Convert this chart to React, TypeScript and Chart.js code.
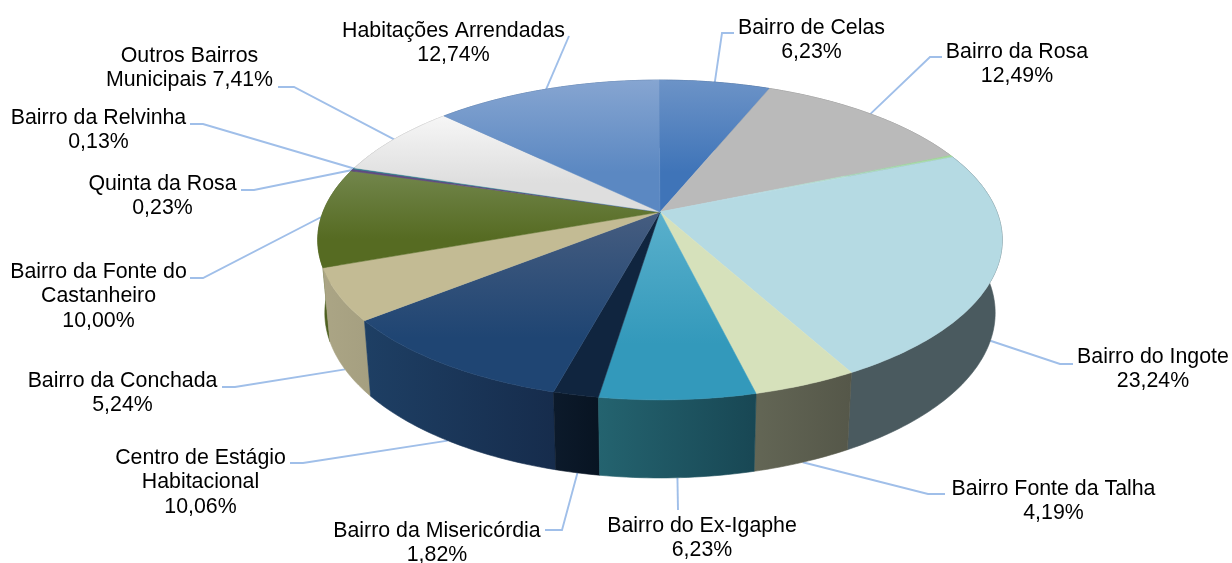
import React, { useEffect, useRef } from "react";
import { Chart, registerables } from "chart.js";

Chart.register(...registerables);

const categories = ["Bairro de Celas", "Bairro da Rosa", "", "Bairro do Ingote", "Bairro Fonte da Talha", "Bairro do Ex-Igaphe", "Bairro da Misericórdia", "Centro de Estágio Habitacional", "Bairro da Conchada", "Bairro da Fonte do Castanheiro", "Quinta da Rosa", "Bairro da Relvinha", "Outros Bairros Municipais", "Habitações Arrendadas"];
const shares = [6.23, 12.49, 0.2, 23.24, 4.19, 6.23, 1.82, 10.06, 5.24, 10.0, 0.23, 0.13, 7.41, 12.74];

const topLight = ["#6C93C7", "#BABABA", "#A4DC9A", "#B5DAE3", "#D6E1BB", "#5AB0CC", "#10253F", "#465D80", "#C3BB94", "#72864C", "#5F4A80", "#2E7F8F", "#F6F6F6", "#86A5D1"];
const topDeep = ["#3F74B8", "#BABABA", "#B5DAE3", "#B5DAE3", "#D6E1BB", "#3399BB", "#10253F", "#1F4573", "#C3BB94", "#566B22", "#5F4A80", "#2E7F8F", "#DEDEDE", "#5B88C2"];
const wallLeft = ["#2C5488", "#777777", "#6B8F62", "#4A5A5F", "#636655", "#24636F", "#0C1A2B", "#1E3F64", "#ABA585", "#4E6020", "#3C2F52", "#1C5560", "#999999", "#3B6090"];
const wallRight = ["#264A78", "#777777", "#6B8F62", "#4A5A5F", "#555749", "#184754", "#081422", "#162C4C", "#A59F80", "#4E6020", "#3C2F52", "#1C5560", "#999999", "#3B6090"];

const labelLines = [
  ["Bairro de Celas", "6,23%"],
  ["Bairro da Rosa", "12,49%"],
  [],
  ["Bairro do Ingote", "23,24%"],
  ["Bairro Fonte da Talha", "4,19%"],
  ["Bairro do Ex-Igaphe", "6,23%"],
  ["Bairro da Misericórdia", "1,82%"],
  ["Centro de Estágio", "Habitacional", "10,06%"],
  ["Bairro da Conchada", "5,24%"],
  ["Bairro da Fonte do", "Castanheiro", "10,00%"],
  ["Quinta da Rosa", "0,23%"],
  ["Bairro da Relvinha", "0,13%"],
  ["Outros Bairros", "Municipais 7,41%"],
  ["Habitações Arrendadas", "12,74%"],
];

// label layout: text centre x, first-line y, elbow x/y, end x
const labelLayout = [
  [811.5, 28, 722, 33, 734],
  [1017, 52, 930, 57, 942],
  null,
  [1153, 357, 1060, 364, 1073],
  [1053.5, 489, 928, 494, 945],
  [702, 526, 678, 510, 678],
  [437, 531, 562, 530, 545],
  [200.5, 458, 303, 463, 290],
  [122.5, 381, 235, 387, 222],
  [98.5, 272, 203, 278, 190],
  [162.5, 184, 254, 190, 241],
  [98.5, 118, 203, 124, 190],
  [189.5, 56, 294, 87, 278],
  [453.5, 31, 569, 36, 569],
];

const FONT = '21.33px "Liberation Sans", Arial, sans-serif';
const LINE_H = 24.5;
const LEADER = "#A0BFE9";

// perspective projection of the pie's unit disc
const CX = 660;
const K = 0.175;
const topFace = { a: 337, b: 155, y: 212 };
const botFace = { a: 330, b: 160, y: 284 };
function project(face: any, theta: number, r = 1) {
  const u = Math.sin(theta) * r;
  const v = Math.cos(theta) * r;
  const w = 1 + K * v;
  return [CX + (face.a * u) / w, face.y - (face.b * v) / w];
}
function rim(face: any, t0: number, t1: number) {
  const n = Math.max(2, Math.ceil(((t1 - t0) * 180) / Math.PI));
  const pts: number[][] = [];
  for (let i = 0; i <= n; i++) pts.push(project(face, t0 + ((t1 - t0) * i) / n));
  return pts;
}
function trace(ctx: CanvasRenderingContext2D, pts: number[][]) {
  ctx.beginPath();
  pts.forEach((p, i) => (i ? ctx.lineTo(p[0], p[1]) : ctx.moveTo(p[0], p[1])));
  ctx.closePath();
}

const pie3d = {
  id: "pie3d",
  afterDatasetsDraw(chart: any) {
    const ctx: CanvasRenderingContext2D = chart.ctx;
    const arcs = chart.getDatasetMeta(0).data.map((el: any, i: number) => {
      const t0 = el.startAngle + Math.PI / 2;
      const t1 = el.endAngle + Math.PI / 2;
      return { i, t0, t1, mid: (t0 + t1) / 2 };
    });
    ctx.save();

    // leader lines
    ctx.strokeStyle = LEADER;
    ctx.lineWidth = 1.9;
    ctx.lineJoin = "miter";
    for (const s of arcs) {
      const l = labelLayout[s.i];
      if (!l) continue;
      const start = project(Math.cos(s.mid) < -0.1 ? botFace : topFace, s.mid);
      ctx.beginPath();
      ctx.moveTo(start[0], start[1]);
      ctx.lineTo(l[2], l[3]);
      ctx.lineTo(l[4], l[3]);
      ctx.stroke();
    }

    // walls, back to front
    const order = [...arcs].sort((p: any, q: any) => Math.cos(q.mid) - Math.cos(p.mid));
    for (const s of order) {
      const a = rim(topFace, s.t0, s.t1);
      const b = rim(botFace, s.t0, s.t1);
      const poly = [...a, ...b.reverse()];
      const xs = poly.map((p) => p[0]);
      const g = ctx.createLinearGradient(Math.min(...xs), 0, Math.max(...xs), 0);
      g.addColorStop(0, wallLeft[s.i]);
      g.addColorStop(1, wallRight[s.i]);
      ctx.fillStyle = g;
      ctx.strokeStyle = g;
      ctx.lineWidth = 0.6;
      trace(ctx, poly);
      ctx.fill();
      ctx.stroke();
    }

    // top faces
    for (const s of arcs) {
      const poly = [[CX, topFace.y], ...rim(topFace, s.t0, s.t1)];
      const ys = poly.map((p) => p[1]);
      const y0 = Math.min(...ys);
      const y1 = Math.max(...ys);
      const g = ctx.createLinearGradient(0, y0, 0, y1);
      g.addColorStop(0, topLight[s.i]);
      g.addColorStop(0.7, topDeep[s.i]);
      g.addColorStop(1, topDeep[s.i]);
      ctx.fillStyle = g;
      ctx.strokeStyle = g;
      ctx.lineWidth = 0.5;
      trace(ctx, poly);
      ctx.fill();
      ctx.stroke();
    }

    // labels
    ctx.fillStyle = "#000000";
    ctx.font = FONT;
    ctx.textAlign = "center";
    ctx.textBaseline = "middle";
    for (const s of arcs) {
      const l = labelLayout[s.i];
      if (!l) continue;
      labelLines[s.i].forEach((t, j) => ctx.fillText(t, l[0], l[1] + j * LINE_H));
    }
    ctx.restore();
  },
};

export default function App() {
  const ref = useRef<HTMLCanvasElement>(null);
  useEffect(() => {
    document.body.style.margin = "0";
    const chart = new Chart(ref.current!, {
      type: "pie",
      data: {
        labels: categories,
        datasets: [{ data: shares, backgroundColor: "rgba(0,0,0,0)", borderWidth: 0 }],
      },
      options: {
        responsive: false,
        animation: false,
        rotation: -0.2,
        plugins: { legend: { display: false }, tooltip: { enabled: false } },
      },
      plugins: [pie3d],
    } as any);
    return () => chart.destroy();
  }, []);
  return (
    <div style={{ position: "absolute", left: 0, top: 0, width: 1232, height: 563, background: "#fff" }}>
      <canvas ref={ref} width={1232} height={563} style={{ display: "block" }} />
    </div>
  );
}
